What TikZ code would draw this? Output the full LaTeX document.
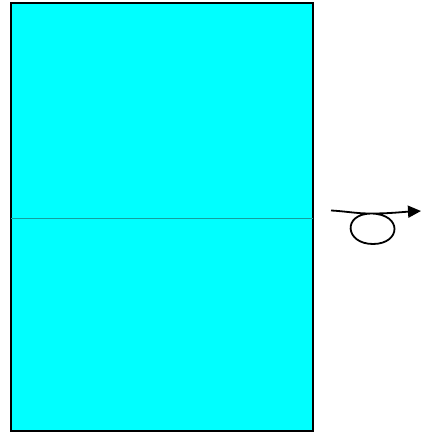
\documentclass[tikz,border=0pt]{standalone}
\usetikzlibrary{arrows.meta}
\definecolor{sheetcyan}{RGB}{0,255,255}
\definecolor{foldteal}{RGB}{20,160,160}

\begin{document}
\begin{tikzpicture}[x=1pt,y=-1pt,
    sheetline/.style={line width=2pt},
    foldline/.style={line width=1pt,foldteal},
    twist/.style={line width=1.8pt,-{Triangle[length=13pt,width=12pt]}}]
  \useasboundingbox (0,0) rectangle (422,434);
  \coordinate (tl) at (11,3);
  \coordinate (br) at (313,431);
  \draw[sheetline,fill=sheetcyan] (tl) rectangle (br);
  \coordinate (foldL) at (11,218.5);
  \coordinate (foldR) at (313,218.5);
  \draw[foldline] (foldL) -- (foldR);
  \coordinate (tail) at (331,210.5);
  \coordinate (knot) at (371,213.5);
  \coordinate (tip) at (421,211);
  \draw[twist] (tail) to[out=-3,in=180] (knot)
    .. controls (403,214) and (401,244) .. (373,244)
    .. controls (345,244) and (342,214) .. (knot)
    to[out=0,in=183] (tip);
\end{tikzpicture}
\end{document}
